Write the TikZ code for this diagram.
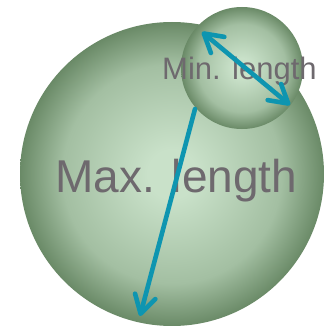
\documentclass[tikz,border=0pt]{standalone}
\usepackage{fontspec}
\setmainfont{Liberation Sans}
\usetikzlibrary{arrows.meta}
\definecolor{ballL}{HTML}{C9E1C9}
\definecolor{ballM}{HTML}{A3BFA2}
\definecolor{ballD}{HTML}{6A8A67}
\definecolor{arrC}{HTML}{0E95B0}
\definecolor{txtC}{HTML}{6E696E}
\pgfdeclareradialshading{ballg}{\pgfpoint{0bp}{0bp}}{color(0bp)=(ballL); color(4bp)=(ballL); color(18bp)=(ballM); color(25bp)=(ballD); color(50bp)=(ballD)}
\tikzset{
  barb/.style={Straight Barb[length=18pt, width=21pt, line cap=round, line join=round]},
  ball/.style={circle, inner sep=0pt, shading=ballg},
  arr/.style={draw=arrC, line width=4.6pt, line cap=round, line join=round, -{Straight Barb[length=18pt, width=21pt, line cap=round, line join=round]}},
  darr/.style={arr, {Straight Barb[length=18pt, width=21pt, line cap=round, line join=round]}-{Straight Barb[length=18pt, width=21pt, line cap=round, line join=round]}},
  lbl/.style={text=txtC, inner sep=0pt, anchor=base west}
}
\begin{document}
\begin{tikzpicture}[x=1pt,y=-1pt]
\useasboundingbox (0,0) rectangle (324,326);
\begin{scope}
\clip (0,0) rectangle (324,326);
\node[ball, minimum size=304pt] (big) at (172,174) {};
\node[ball, minimum size=122pt] (small) at (242,68) {};
\end{scope}
\node[lbl, font=\fontsize{46pt}{50pt}\selectfont] (maxl) at (55,192) {Max. length};
\node[lbl, font=\fontsize{31pt}{34pt}\selectfont] (minl) at (162,80) {Min. length};
\coordinate (bs) at (195,109);
\coordinate (be) at (140,316);
\coordinate (ss) at (202,32);
\coordinate (se) at (290,105);
\draw[arr] (bs) -- (be);
\draw[darr] (ss) -- (se);
\end{tikzpicture}
\end{document}
